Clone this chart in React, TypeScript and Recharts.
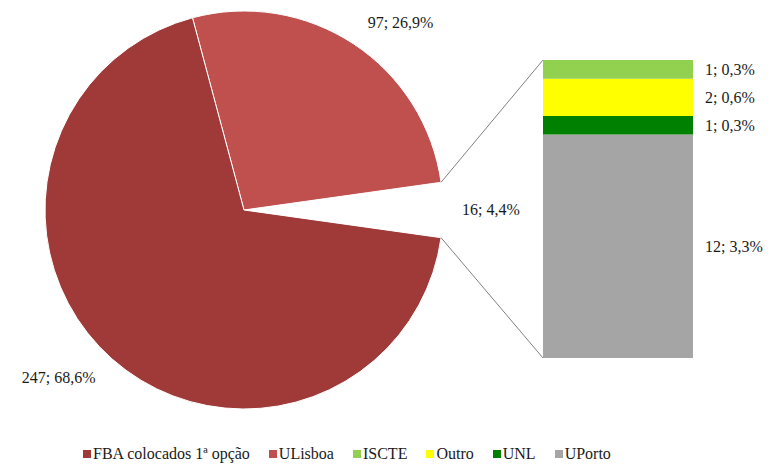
import React from "react";
import { PieChart, Pie, Cell, BarChart, Bar, XAxis, YAxis, LabelList } from "recharts";

// pie: the first slice is the exploded "others" gap that the bar breaks down
const pieNames = ["Outros", "ULisboa", "FBA colocados 1ª opção"];
const pieValues = [16, 97, 247];
const pieColors = ["none", "#c0504d", "#a03a39"];

// stacked bar, bottom to top
const barNames = ["UPorto", "UNL", "Outro", "ISCTE"];
const barValues = [12, 1, 2, 1];
const barColors = ["#a5a5a5", "#008000", "#ffff00", "#92d050"];

const legendNames = ["FBA colocados 1ª opção", "ULisboa", "ISCTE", "Outro", "UNL", "UPorto"];
const legendColors = ["#a03a39", "#c0504d", "#92d050", "#ffff00", "#008000", "#a5a5a5"];

const W = 777;
const H = 466;
const FONT = "Liberation Serif";

const total = pieValues.reduce((a, b) => a + b, 0);
const othersTotal = barValues.reduce((a, b) => a + b, 0);
const fmt = (v: number) => `${v}; ${((v / total) * 100).toFixed(1).replace(".", ",")}%`;

const pieData = pieNames.map((name, i) => ({ name, value: pieValues[i] }));
const barRow: Record<string, number | string> = { name: "Outros" };
barNames.forEach((n, i) => (barRow[n] = barValues[i]));

// geometry
const CX = 244;
const CY = 210;
const R = 199;
const gapHalf = ((pieValues[0] / total) * 360) / 2;
const barMargin = { left: 543, right: 84, top: 60, bottom: 108 };

const RAD = Math.PI / 180;

const renderPieLabel = (p: any) => {
  const off = p.index === 0 ? 19 : 25;
  const r = p.outerRadius + off;
  const cos = Math.cos(-p.midAngle * RAD);
  const sin = Math.sin(-p.midAngle * RAD);
  const x = p.cx + r * cos;
  const y = p.cy + r * sin;
  return (
    <text x={x} y={y} dy={5} textAnchor={cos >= 0 ? "start" : "end"} style={{ fontFamily: FONT }} fontSize={16} fill="#1a1a1a">
      {fmt(p.value)}
    </text>
  );
};

const renderBarLabel = (p: any) => {
  const { x, y, width, height, value } = p;
  return (
    <text x={x + width + 12} y={y + height / 2} dy={6} style={{ fontFamily: FONT }} fontSize={16} fill="#1a1a1a">
      {fmt(value)}
    </text>
  );
};

export default function App() {
  const p1 = { x: CX + R * Math.cos(gapHalf * RAD), y: CY - R * Math.sin(gapHalf * RAD) };
  const p2 = { x: CX + R * Math.cos(gapHalf * RAD), y: CY + R * Math.sin(gapHalf * RAD) };
  const barLeft = barMargin.left;
  const barTop = barMargin.top;
  const barBottom = H - barMargin.bottom;

  return (
    <div style={{ position: "absolute", left: 0, top: 0, width: W, height: H, background: "#fff", fontFamily: FONT }}>
      <div style={{ position: "absolute", left: 0, top: 0 }}>
        <PieChart width={W} height={H} margin={{ top: 0, right: 0, bottom: 0, left: 0 }}>
          <Pie
            data={pieData}
            dataKey="value"
            nameKey="name"
            cx={CX}
            cy={CY}
            outerRadius={R}
            startAngle={-gapHalf}
            endAngle={360 - gapHalf}
            label={renderPieLabel}
            labelLine={false}
            stroke="#fff"
            strokeWidth={1}
            isAnimationActive={false}
          >
            {pieData.map((_, i) => (
              <Cell key={i} fill={pieColors[i]} stroke={i === 0 ? "none" : "#fff"} />
            ))}
          </Pie>
        </PieChart>
      </div>

      <div style={{ position: "absolute", left: 0, top: 0 }}>
        <BarChart width={W} height={H} data={[barRow]} margin={barMargin} barCategoryGap={0}>
          <XAxis dataKey="name" hide />
          <YAxis hide domain={[0, othersTotal]} />
          {barNames.map((n, i) => (
            <Bar key={n} dataKey={n} stackId="o" fill={barColors[i]} isAnimationActive={false}>
              <LabelList dataKey={n} content={renderBarLabel} />
            </Bar>
          ))}
        </BarChart>
      </div>

      {/* connector lines from the gap to the bar */}
      <svg width={W} height={H} style={{ position: "absolute", left: 0, top: 0, pointerEvents: "none" }}>
        <line x1={p1.x} y1={p1.y} x2={barLeft} y2={barTop} stroke="#808080" strokeWidth={1} />
        <line x1={p2.x} y1={p2.y} x2={barLeft} y2={barBottom} stroke="#808080" strokeWidth={1} />
      </svg>

      {/* legend */}
      <div style={{ position: "absolute", left: 83, top: 445, display: "flex", alignItems: "center", fontSize: 16, color: "#1a1a1a" }}>
        {legendNames.map((n, i) => (
          <div key={n} style={{ display: "flex", alignItems: "center", marginRight: 19 }}>
            <span style={{ width: 8, height: 8, background: legendColors[i], marginRight: 2, display: "inline-block" }} />
            <span>{n}</span>
          </div>
        ))}
      </div>
    </div>
  );
}
